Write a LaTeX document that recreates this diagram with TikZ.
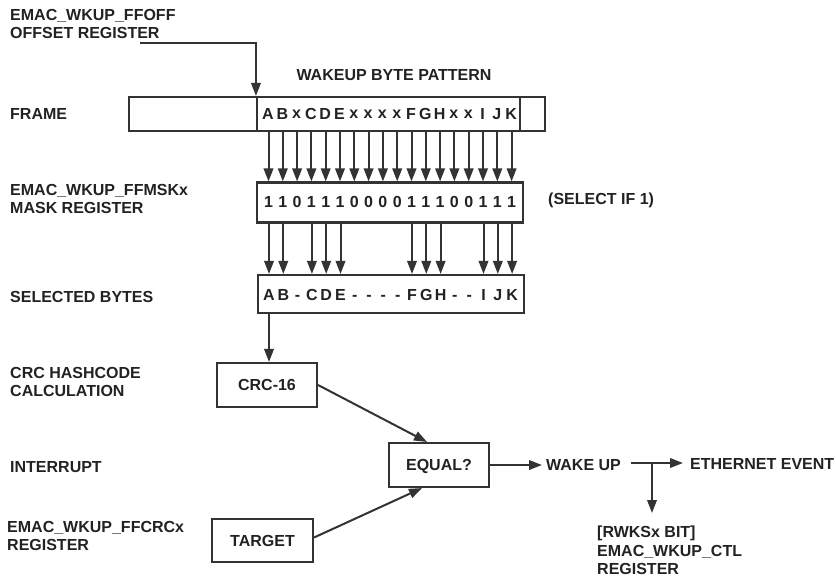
\documentclass[tikz,border=0pt]{standalone}
\usepackage{fontspec}
\setmainfont{Liberation Sans}
\usetikzlibrary{arrows.meta}
\definecolor{ln}{HTML}{333333}
\definecolor{tx}{HTML}{222222}
\tikzset{
  lbl/.style={font=\bfseries\fontsize{16}{18.5}\selectfont, text=tx, inner sep=0pt, align=left},
  ch/.style={font=\bfseries\fontsize{16}{18.5}\selectfont, text=tx, inner sep=0pt},
  bx/.style={draw=ln, line width=2.1pt, inner sep=0pt},
  con/.style={draw=ln, line width=2pt},
  arr/.style={con, -{Triangle[length=13pt,width=9.5pt]}},
}
\begin{document}
\begin{tikzpicture}[x=1pt,y=-1pt]
\useasboundingbox (0,0) rectangle (836,579);
% left labels
\node[lbl, anchor=west] (l1) at (10,24) {EMAC\_WKUP\_FFOFF\\OFFSET REGISTER};
\node[lbl, anchor=west] (l2) at (10,114) {FRAME};
\node[lbl, anchor=west] (l3) at (10,199) {EMAC\_WKUP\_FFMSKx\\MASK REGISTER};
\node[lbl, anchor=west] (l4) at (10,297) {SELECTED BYTES};
\node[lbl, anchor=west] (l5) at (10,382) {CRC HASHCODE\\CALCULATION};
\node[lbl, anchor=west] (l6) at (10,467) {INTERRUPT};
\node[lbl, anchor=west] (l7) at (7,536) {EMAC\_WKUP\_FFCRCx\\REGISTER};
\node[lbl] (wbp) at (394,75) {WAKEUP BYTE PATTERN};
\node[lbl, anchor=west] (sel) at (548,200) {(SELECT IF 1)};
% frame boxes
\node[bx, minimum width=128, minimum height=34] (frL) at (193,114) {};
\node[bx, minimum width=263, minimum height=34] (frM) at (388.5,114) {};
\node[bx, minimum width=25, minimum height=34] (frR) at (532.5,114) {};
\node[bx, minimum width=266, minimum height=40] (mask) at (390,202.5) {};
\node[bx, minimum width=266, minimum height=38] (selb) at (391,294) {};
% columns
\foreach \c [count=\i from 0] in {A,B,x,C,D,E,x,x,x,x,F,G,H,x,x,I,J,K} {
  \node[ch] (f\i) at ({268+14.3*\i},114) {\c};
}
\foreach \c [count=\i from 0] in {1,1,0,1,1,1,0,0,0,0,1,1,1,0,0,1,1,1} {
  \node[ch] (m\i) at ({268.5+14.3*\i},202) {\c};
}
\foreach \c [count=\i from 0] in {A,B,-,C,D,E,-,-,-,-,F,G,H,-,-,I,J,K} {
  \node[ch, anchor=base] (s\i) at ({269+14.3*\i},300) {\c};
}
\foreach \i in {0,...,17} {
  \draw[arr] (m\i |- frM.south) -- (m\i |- mask.north);
}
\foreach \i in {0,1,3,4,5,10,11,12,15,16,17} {
  \draw[arr] (s\i |- mask.south) -- (s\i |- selb.north);
}
% offset arrow
\coordinate (offs) at (140,43);
\draw[arr] (offs) -- (frM.north west |- offs) -- (frM.north west);
% lower boxes
\node[bx, minimum width=100, minimum height=44] (crc) at (267,385) {};
\node[ch] (crct) at (267,385) {CRC-16};
\node[bx, minimum width=100, minimum height=44] (eq) at (439,465) {};
\node[ch] (eqt) at (439,466) {EQUAL?};
\node[bx, minimum width=101, minimum height=43] (tg) at (262.5,540.5) {};
\node[ch] (tgt) at (262.5,541) {TARGET};
\draw[arr] (s0 |- selb.south) -- (s0 |- crc.north);
\draw[arr] (crc.east) -- ([xshift=-12pt]eq.north);
\draw[arr] ([yshift=3pt]tg.east) -- ([xshift=-17pt]eq.south);
\node[lbl, anchor=west] (wk) at (546,465) {WAKE UP};
\node[lbl, anchor=west] (eth) at (690,464) {ETHERNET EVENT};
\node[lbl, anchor=north west] (rw) at (597,526) {[RWKSx BIT]\\EMAC\_WKUP\_CTL\\REGISTER};
\draw[arr] (eq.east) -- ([xshift=-4pt]wk.west);
\coordinate (br) at (652,463);
\draw[arr] ([xshift=10pt]wk.east |- br) -- ([xshift=-7pt]eth.west |- br);
\draw[arr] (br) -- (652,513);
\end{tikzpicture}
\end{document}
